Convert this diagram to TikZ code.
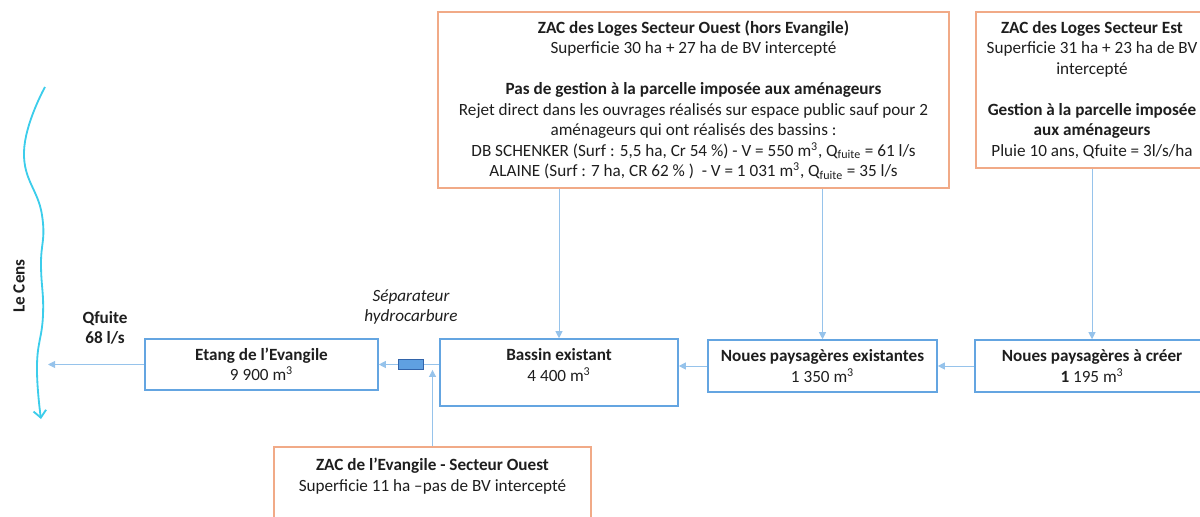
\documentclass[tikz,border=0pt]{standalone}
\usepackage{fontspec}
\setmainfont{Carlito}
\usetikzlibrary{arrows.meta}

\definecolor{zacorange}{RGB}{241,170,135}
\definecolor{boxblue}{RGB}{100,165,225}
\definecolor{flowblue}{RGB}{150,195,235}
\definecolor{rivercyan}{RGB}{60,205,235}
\definecolor{sepblue}{RGB}{95,160,225}
\definecolor{sepedge}{RGB}{50,100,170}
\definecolor{txtgrey}{RGB}{30,30,30}

\begin{document}
\begin{tikzpicture}[x=0.025cm, y=-0.025cm, text=txtgrey,
	font=\fontsize{12.2}{14.6}\selectfont,
	zac/.style={draw=zacorange, line width=1.3pt, align=center, inner sep=0pt},
	ouvrage/.style={draw=boxblue, line width=1.1pt, align=center, inner sep=0pt},
	flow/.style={draw=flowblue, line width=0.6pt, -{Triangle[length=5pt,width=5pt]}}]
	\useasboundingbox (0,0) rectangle (1200,517);
	\clip (0,0) rectangle (1200,517);

	% ZAC (apports)
	\node[zac, minimum width=12.775cm, minimum height=4.4cm] (ouest) at (693.5,100)
		{\textbf{ZAC des Loges Secteur Ouest (hors Evangile)}\\
		Superficie 30 ha + 27 ha de BV intercepté\\[14.6pt]
		\textbf{Pas de gestion à la parcelle imposée aux aménageurs}\\
		Rejet direct dans les ouvrages réalisés sur espace public sauf pour 2\\
		aménageurs qui ont réalisés des bassins :\\
		DB SCHENKER (Surf : 5,5 ha, Cr 54 \%) - V = 550 m\textsuperscript{3}, Q\textsubscript{fuite} = 61 l/s\\
		ALAINE (Surf : 7 ha, CR 62 \% )\ \ - V = 1 031 m\textsuperscript{3}, Q\textsubscript{fuite} = 35 l/s};
	\node[zac, minimum width=5.8cm, minimum height=3.9cm] (est) at (1092,90)
		{\textbf{ZAC des Loges Secteur Est}\\
		Superficie 31 ha + 23 ha de BV\\
		intercepté\\[14.6pt]
		\textbf{Gestion à la parcelle imposée}\\
		\textbf{aux aménageurs}\\
		Pluie 10 ans, Qfuite = 3l/s/ha};
	\node[zac, minimum width=7.925cm, minimum height=2.25cm] (evangile) at (432.5,492) {};
	\node[align=center] (evangiletxt) at (432.5,476)
		{\textbf{ZAC de l’Evangile - Secteur Ouest}\\
		Superficie 11 ha –pas de BV intercepté};

	% Ouvrages
	\node[ouvrage, minimum width=5.825cm, minimum height=1.275cm] (etang) at (261.5,364.5)
		{\textbf{Etang de l’Evangile}\\9 900 m\textsuperscript{3}};
	\node[ouvrage, minimum width=5.95cm, minimum height=1.675cm] (bassin) at (559,372.5) {};
	\node[align=center] (bassintxt) at (559,365)
		{\textbf{Bassin existant}\\4 400 m\textsuperscript{3}};
	\node[ouvrage, minimum width=5.725cm, minimum height=1.3cm] (nexist) at (822.5,366)
		{\textbf{Noues paysagères existantes}\\1 350 m\textsuperscript{3}};
	\node[ouvrage, minimum width=5.85cm, minimum height=1.3cm] (ncreer) at (1092,366)
		{\textbf{Noues paysagères à créer}\\\textbf{1} 195 m\textsuperscript{3}};

	% Le Cens
	\draw[rivercyan, line width=1.3pt, -{Straight Barb[length=5pt,width=9pt]}]
		plot[smooth, tension=0.8] coordinates {(45,87) (24,152) (42,215)
		(41,265) (43,315) (37,365) (41,419)};
	\node[rotate=90] (lecens) at (19,286) {\textbf{Le Cens}};
	\coordinate (exutoire) at (48,364.5);

	% Ecoulements
	\draw[flow] (bassin.north |- ouest.south) -- (bassin.north);
	\draw[flow] (nexist.north |- ouest.south) -- (nexist.north);
	\draw[flow] (est.south) -- (ncreer.north);
	\draw[flow] (ncreer.west) -- (nexist.east);
	\draw[flow] (nexist.west) -- (nexist.west -| bassin.east);
	\draw[flow] (etang.east -| bassin.west) -- (etang.east);
	\draw[flow] (etang.west) -- (exutoire);
	\node[draw=sepedge, fill=sepblue, line width=0.6pt, inner sep=0pt,
		minimum width=0.625cm, minimum height=0.25cm] (separateur) at (410.5,364.5) {};
	\draw[flow] (evangile.north) -- (evangile.north |- separateur.south);

	% Labels
	\node[align=center] (qfuite) at (105,328) {\textbf{Qfuite}\\\textbf{68 l/s}};
	\node[align=center] (seplabel) at (411,307) {\itshape Séparateur\\\itshape hydrocarbure};
\end{tikzpicture}
\end{document}
